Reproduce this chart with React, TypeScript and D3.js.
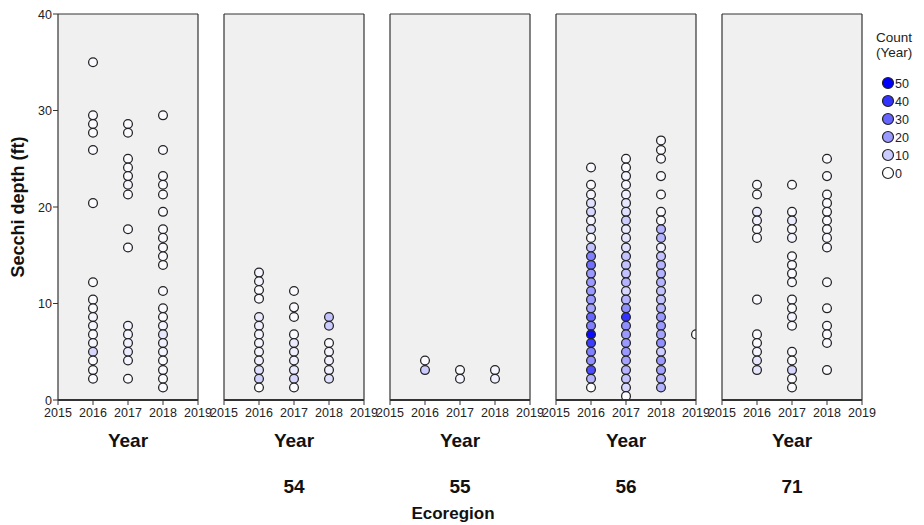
import React from "react";
import * as d3 from "d3";

// Ecoregion facets (the first facet has no label)
const ecoregions = ["", "54", "55", "56", "71"];
const yearTicks = [2015, 2016, 2017, 2018, 2019];
const depthTicks = [0, 10, 20, 30, 40];
const legendCounts = [50, 40, 30, 20, 10, 0];

// Points per ecoregion: [year, Secchi depth (ft), count]
const pointsBlank: [number, number, number][] = [
  [2016, 35.0, 1], [2016, 29.5, 1], [2016, 28.6, 1], [2016, 27.7, 1], [2016, 25.9, 1],
  [2016, 20.4, 1], [2016, 12.2, 1], [2016, 10.4, 1], [2016, 9.5, 1], [2016, 8.6, 2],
  [2016, 7.7, 2], [2016, 6.8, 1], [2016, 5.9, 2], [2016, 5.0, 8], [2016, 4.1, 1],
  [2016, 3.1, 1], [2016, 2.2, 1],
  [2017, 28.6, 1], [2017, 27.7, 1], [2017, 25.0, 1], [2017, 24.1, 1], [2017, 23.2, 1],
  [2017, 22.3, 2], [2017, 21.3, 1], [2017, 17.7, 1], [2017, 15.8, 1], [2017, 7.7, 2],
  [2017, 6.8, 2], [2017, 5.9, 3], [2017, 5.0, 4], [2017, 4.1, 2], [2017, 2.2, 1],
  [2018, 29.5, 1], [2018, 25.9, 1], [2018, 23.2, 1], [2018, 22.3, 1], [2018, 21.3, 1],
  [2018, 19.5, 1], [2018, 17.7, 1], [2018, 16.8, 1], [2018, 15.8, 1], [2018, 14.9, 1],
  [2018, 14.0, 1], [2018, 11.3, 1], [2018, 9.5, 1], [2018, 8.6, 1], [2018, 7.7, 2],
  [2018, 6.8, 5], [2018, 5.9, 3], [2018, 5.0, 2], [2018, 4.1, 1], [2018, 3.1, 1],
  [2018, 2.2, 1], [2018, 1.3, 1],
];

const points54: [number, number, number][] = [
  [2016, 13.2, 2], [2016, 12.3, 2], [2016, 11.4, 1], [2016, 10.5, 1], [2016, 8.6, 4],
  [2016, 7.7, 3], [2016, 6.8, 2], [2016, 5.9, 2], [2016, 5.0, 2], [2016, 4.1, 3],
  [2016, 3.1, 6], [2016, 2.2, 9], [2016, 1.3, 0],
  [2017, 11.3, 1], [2017, 9.6, 1], [2017, 8.6, 1], [2017, 6.8, 1], [2017, 5.9, 4],
  [2017, 5.0, 3], [2017, 4.1, 3], [2017, 3.1, 4], [2017, 2.2, 8], [2017, 1.3, 1],
  [2018, 8.6, 12], [2018, 7.7, 10], [2018, 5.9, 1], [2018, 5.0, 2], [2018, 4.1, 3],
  [2018, 3.1, 3], [2018, 2.2, 6],
];

const points55: [number, number, number][] = [
  [2016, 4.1, 1], [2016, 3.1, 10],
  [2017, 3.1, 1], [2017, 2.2, 2],
  [2018, 3.1, 2], [2018, 2.2, 3],
];

const points56: [number, number, number][] = [
  [2016, 24.1, 1], [2016, 22.3, 1], [2016, 21.3, 2], [2016, 20.4, 6], [2016, 19.5, 8],
  [2016, 18.6, 2], [2016, 17.7, 6], [2016, 16.8, 1], [2016, 15.8, 12], [2016, 14.9, 25],
  [2016, 14.0, 28], [2016, 13.1, 20], [2016, 12.2, 20], [2016, 11.3, 20], [2016, 10.4, 20],
  [2016, 9.5, 18], [2016, 8.6, 30], [2016, 7.7, 25], [2016, 6.8, 48], [2016, 5.9, 38],
  [2016, 5.0, 25], [2016, 4.1, 22], [2016, 3.1, 35], [2016, 2.2, 15], [2016, 1.3, 0],
  [2017, 25.0, 1], [2017, 24.1, 1], [2017, 23.2, 2], [2017, 22.3, 2], [2017, 21.3, 3],
  [2017, 20.4, 5], [2017, 19.5, 6], [2017, 18.6, 10], [2017, 17.7, 4], [2017, 16.8, 5],
  [2017, 15.8, 6], [2017, 14.9, 12], [2017, 14.0, 12], [2017, 13.1, 12], [2017, 12.2, 15],
  [2017, 11.3, 8], [2017, 10.4, 15], [2017, 9.5, 22], [2017, 8.6, 40], [2017, 7.7, 22],
  [2017, 6.8, 20], [2017, 5.9, 20], [2017, 5.0, 20], [2017, 4.1, 18], [2017, 3.1, 15],
  [2017, 2.2, 12], [2017, 1.3, 8], [2017, 0.4, 1],
  [2018, 26.9, 1], [2018, 25.9, 1], [2018, 25.0, 1], [2018, 23.2, 1], [2018, 21.3, 1],
  [2018, 19.5, 1], [2018, 18.6, 1], [2018, 17.7, 15], [2018, 16.8, 15], [2018, 15.8, 3],
  [2018, 14.9, 12], [2018, 14.0, 15], [2018, 13.1, 15], [2018, 12.2, 15], [2018, 11.3, 12],
  [2018, 10.4, 12], [2018, 9.5, 15], [2018, 8.6, 20], [2018, 7.7, 20], [2018, 6.8, 18],
  [2018, 5.9, 22], [2018, 5.0, 10], [2018, 4.1, 20], [2018, 3.1, 18], [2018, 2.2, 15],
  [2018, 1.3, 15],
  [2019, 6.8, 0],
];

const points71: [number, number, number][] = [
  [2016, 22.3, 1], [2016, 21.3, 1], [2016, 19.5, 4], [2016, 18.6, 3], [2016, 17.7, 1],
  [2016, 16.8, 1], [2016, 10.4, 1], [2016, 6.8, 1], [2016, 5.9, 1], [2016, 5.0, 2],
  [2016, 4.1, 5], [2016, 3.1, 5],
  [2017, 22.3, 1], [2017, 19.5, 1], [2017, 18.6, 4], [2017, 17.7, 1], [2017, 16.8, 2],
  [2017, 14.9, 1], [2017, 14.0, 1], [2017, 13.1, 1], [2017, 12.2, 1], [2017, 10.4, 1],
  [2017, 9.5, 1], [2017, 8.6, 2], [2017, 7.7, 1], [2017, 5.0, 1], [2017, 4.1, 1],
  [2017, 3.1, 8], [2017, 2.2, 1], [2017, 1.3, 1],
  [2018, 25.0, 1], [2018, 23.2, 1], [2018, 21.3, 1], [2018, 20.4, 1], [2018, 19.5, 1],
  [2018, 18.6, 1], [2018, 17.7, 1], [2018, 16.8, 1], [2018, 15.8, 1], [2018, 12.2, 1],
  [2018, 9.5, 1], [2018, 7.7, 1], [2018, 6.8, 1], [2018, 5.9, 1], [2018, 3.1, 1],
];

const panelPoints = [pointsBlank, points54, points55, points56, points71];

const FONT = "'Liberation Sans', Arial, Helvetica, sans-serif";

export default function App() {
  const width = 924;
  const height = 525;
  const panelLeft0 = 58;
  const panelStep = 166;
  const panelW = 140;
  const top = 14;
  const bottom = 400;

  const y = d3.scaleLinear().domain([0, 40]).range([bottom, top]);
  const x = d3.scaleLinear().domain([2015, 2019]).range([0, panelW]);
  const color = d3
    .scaleLinear<string>()
    .domain([0, 50])
    .range(["#ffffff", "#0000ff"])
    .interpolate(d3.interpolateRgb);

  const r = 4.4;
  const dotStroke = "#222222";

  return (
    <svg
      width={width}
      height={height}
      style={{ position: "absolute", left: 0, top: 0, background: "#ffffff" }}
      fontFamily={FONT}
    >
      <defs>
        {ecoregions.map((_, i) => (
          <clipPath id={`clip-${i}`} key={i}>
            <rect x={0} y={top - 6} width={panelW} height={bottom - top + 12} />
          </clipPath>
        ))}
      </defs>

      {ecoregions.map((eco, i) => {
        const px = panelLeft0 + i * panelStep;
        const pts = panelPoints[i];
        return (
          <g key={i} transform={`translate(${px},0)`}>
            <rect x={0} y={top} width={panelW} height={bottom - top} fill="#f0f0f0" />
            <g clipPath={`url(#clip-${i})`}>
              {pts.map((p, j) => (
                <circle
                  key={j}
                  cx={x(p[0])}
                  cy={y(p[1])}
                  r={r}
                  fill={color(p[2])}
                  stroke={dotStroke}
                  strokeWidth={1.25}
                />
              ))}
            </g>
            {/* frame */}
            <line x1={0} x2={panelW} y1={top} y2={top} stroke="#333" strokeWidth={1} />
            <line x1={0} x2={0} y1={top} y2={bottom} stroke="#333" strokeWidth={1.2} />
            <line x1={panelW} x2={panelW} y1={top} y2={bottom} stroke="#333" strokeWidth={1.2} />
            <line x1={0} x2={panelW} y1={bottom} y2={bottom} stroke="#333" strokeWidth={2} />
            {/* x ticks */}
            {yearTicks.map((t) => (
              <g key={t}>
                <line x1={x(t)} x2={x(t)} y1={bottom} y2={bottom + 5} stroke="#333" strokeWidth={1} />
                <text x={x(t)} y={bottom + 17} fontSize={12.5} textAnchor="middle" fill="#222">
                  {t}
                </text>
              </g>
            ))}
            <text x={panelW / 2} y={bottom + 47} fontSize={19} fontWeight="bold" textAnchor="middle" fill="#111">
              Year
            </text>
            {eco && (
              <text x={panelW / 2} y={bottom + 93} fontSize={19} fontWeight="bold" textAnchor="middle" fill="#111">
                {eco}
              </text>
            )}
            {/* y axis on first facet */}
            {i === 0 &&
              depthTicks.map((t) => (
                <g key={t}>
                  <line x1={-5} x2={0} y1={y(t)} y2={y(t)} stroke="#333" strokeWidth={1} />
                  <text x={-6} y={y(t) + 4.5} fontSize={12.5} textAnchor="end" fill="#222">
                    {t}
                  </text>
                </g>
              ))}
          </g>
        );
      })}

      {/* axis titles */}
      <text
        transform={`translate(24,${(top + bottom) / 2}) rotate(-90)`}
        fontSize={18}
        fontWeight="bold"
        textAnchor="middle"
        fill="#111"
      >
        Secchi depth (ft)
      </text>
      <text x={453} y={519} fontSize={17} fontWeight="bold" textAnchor="middle" fill="#111">
        Ecoregion
      </text>

      {/* legend */}
      <g transform="translate(876,0)">
        <text x={0} y={42} fontSize={13.5} fill="#222">Count</text>
        <text x={0} y={57} fontSize={13.5} fill="#222">(Year)</text>
        {legendCounts.map((c, k) => {
          const ly = 83 + k * 18;
          return (
            <g key={c}>
              <circle cx={12} cy={ly} r={5.5} fill={color(c)} stroke={dotStroke} strokeWidth={1.2} />
              <text x={19} y={ly + 4.5} fontSize={12.5} fill="#222">{c}</text>
            </g>
          );
        })}
      </g>
    </svg>
  );
}
